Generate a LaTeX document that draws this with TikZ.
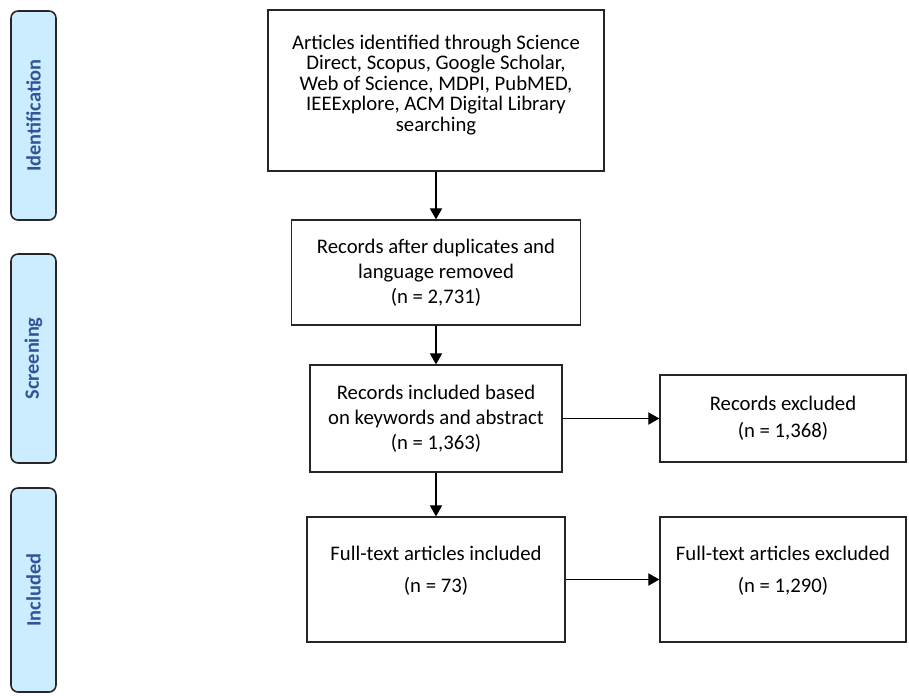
\documentclass[tikz,border=0pt]{standalone}
\usepackage{fontspec}
\setmainfont{Carlito}
\usetikzlibrary{arrows.meta}
\definecolor{stagefill}{RGB}{204,236,255}
\definecolor{stagetext}{RGB}{47,85,151}
\begin{document}
\begin{tikzpicture}[line width=0.75pt,
                       main node/.style={rectangle,draw=black!85,align=center,inner sep=2pt,
                         font=\fontsize{11.8}{14.3}\selectfont},
                       stage node/.style={rectangle,rounded corners=4pt,draw=black!85,line width=0.9pt,
                         fill=stagefill,text=stagetext,rotate=90,minimum height=0.90cm,
                         font=\fontsize{11.6}{13}\selectfont\bfseries},
                       flow/.style={-{Triangle[length=6.3pt,width=7pt]},black}
                      ]
  \useasboundingbox (0.00,0.00) rectangle (18.18,-13.90);

  \node[stage node,minimum width=4.18cm] (ident) at (0.67,-2.31) {Identification};
  \node[stage node,minimum width=4.18cm] (screen) at (0.67,-7.17) {Screening};
  \node[stage node,minimum width=4.08cm] (incl) at (0.67,-11.80) {Included};

  \node[main node,minimum width=6.72cm,minimum height=3.22cm,
        font=\fontsize{11.8}{11.7}\selectfont] (art) at (8.72,-1.81)
    {Articles identified through Science\\Direct, Scopus, Google Scholar,\\Web of Science, MDPI, PubMED,\\IEEExplore, ACM Digital Library\\searching\\[-3.1pt]\mbox{}};
  \node[main node,minimum width=5.78cm,minimum height=2.10cm] (rec) at (8.72,-5.45)
    {Records after duplicates and\\language removed\\(n = 2,731)};
  \node[main node,minimum width=5.04cm,minimum height=2.14cm] (kw) at (8.72,-8.37)
    {Records included based\\on keywords and abstract\\(n = 1,363)};
  \node[main node,minimum width=4.92cm,minimum height=1.74cm,
        font=\fontsize{11.8}{15.4}\selectfont] (exkw) at (15.66,-8.37)
    {Records excluded\\(n = 1,368)};
  \node[main node,minimum width=5.16cm,minimum height=2.50cm,
        font=\fontsize{11.8}{18.2}\selectfont] (full) at (8.72,-11.59)
    {Full-text articles included\\(n = 73)\\[-6.7pt]\mbox{}};
  \node[main node,minimum width=4.92cm,minimum height=2.50cm,
        font=\fontsize{11.8}{18.2}\selectfont] (exfull) at (15.66,-11.59)
    {Full-text articles excluded\\(n = 1,290)\\[-6.7pt]\mbox{}};

  \path[flow]%
   (art) edge (rec)
   (rec) edge (kw)
   (kw) edge (full)
   (kw) edge (exkw)
   (full) edge (exfull);
 \end{tikzpicture}
\end{document}
